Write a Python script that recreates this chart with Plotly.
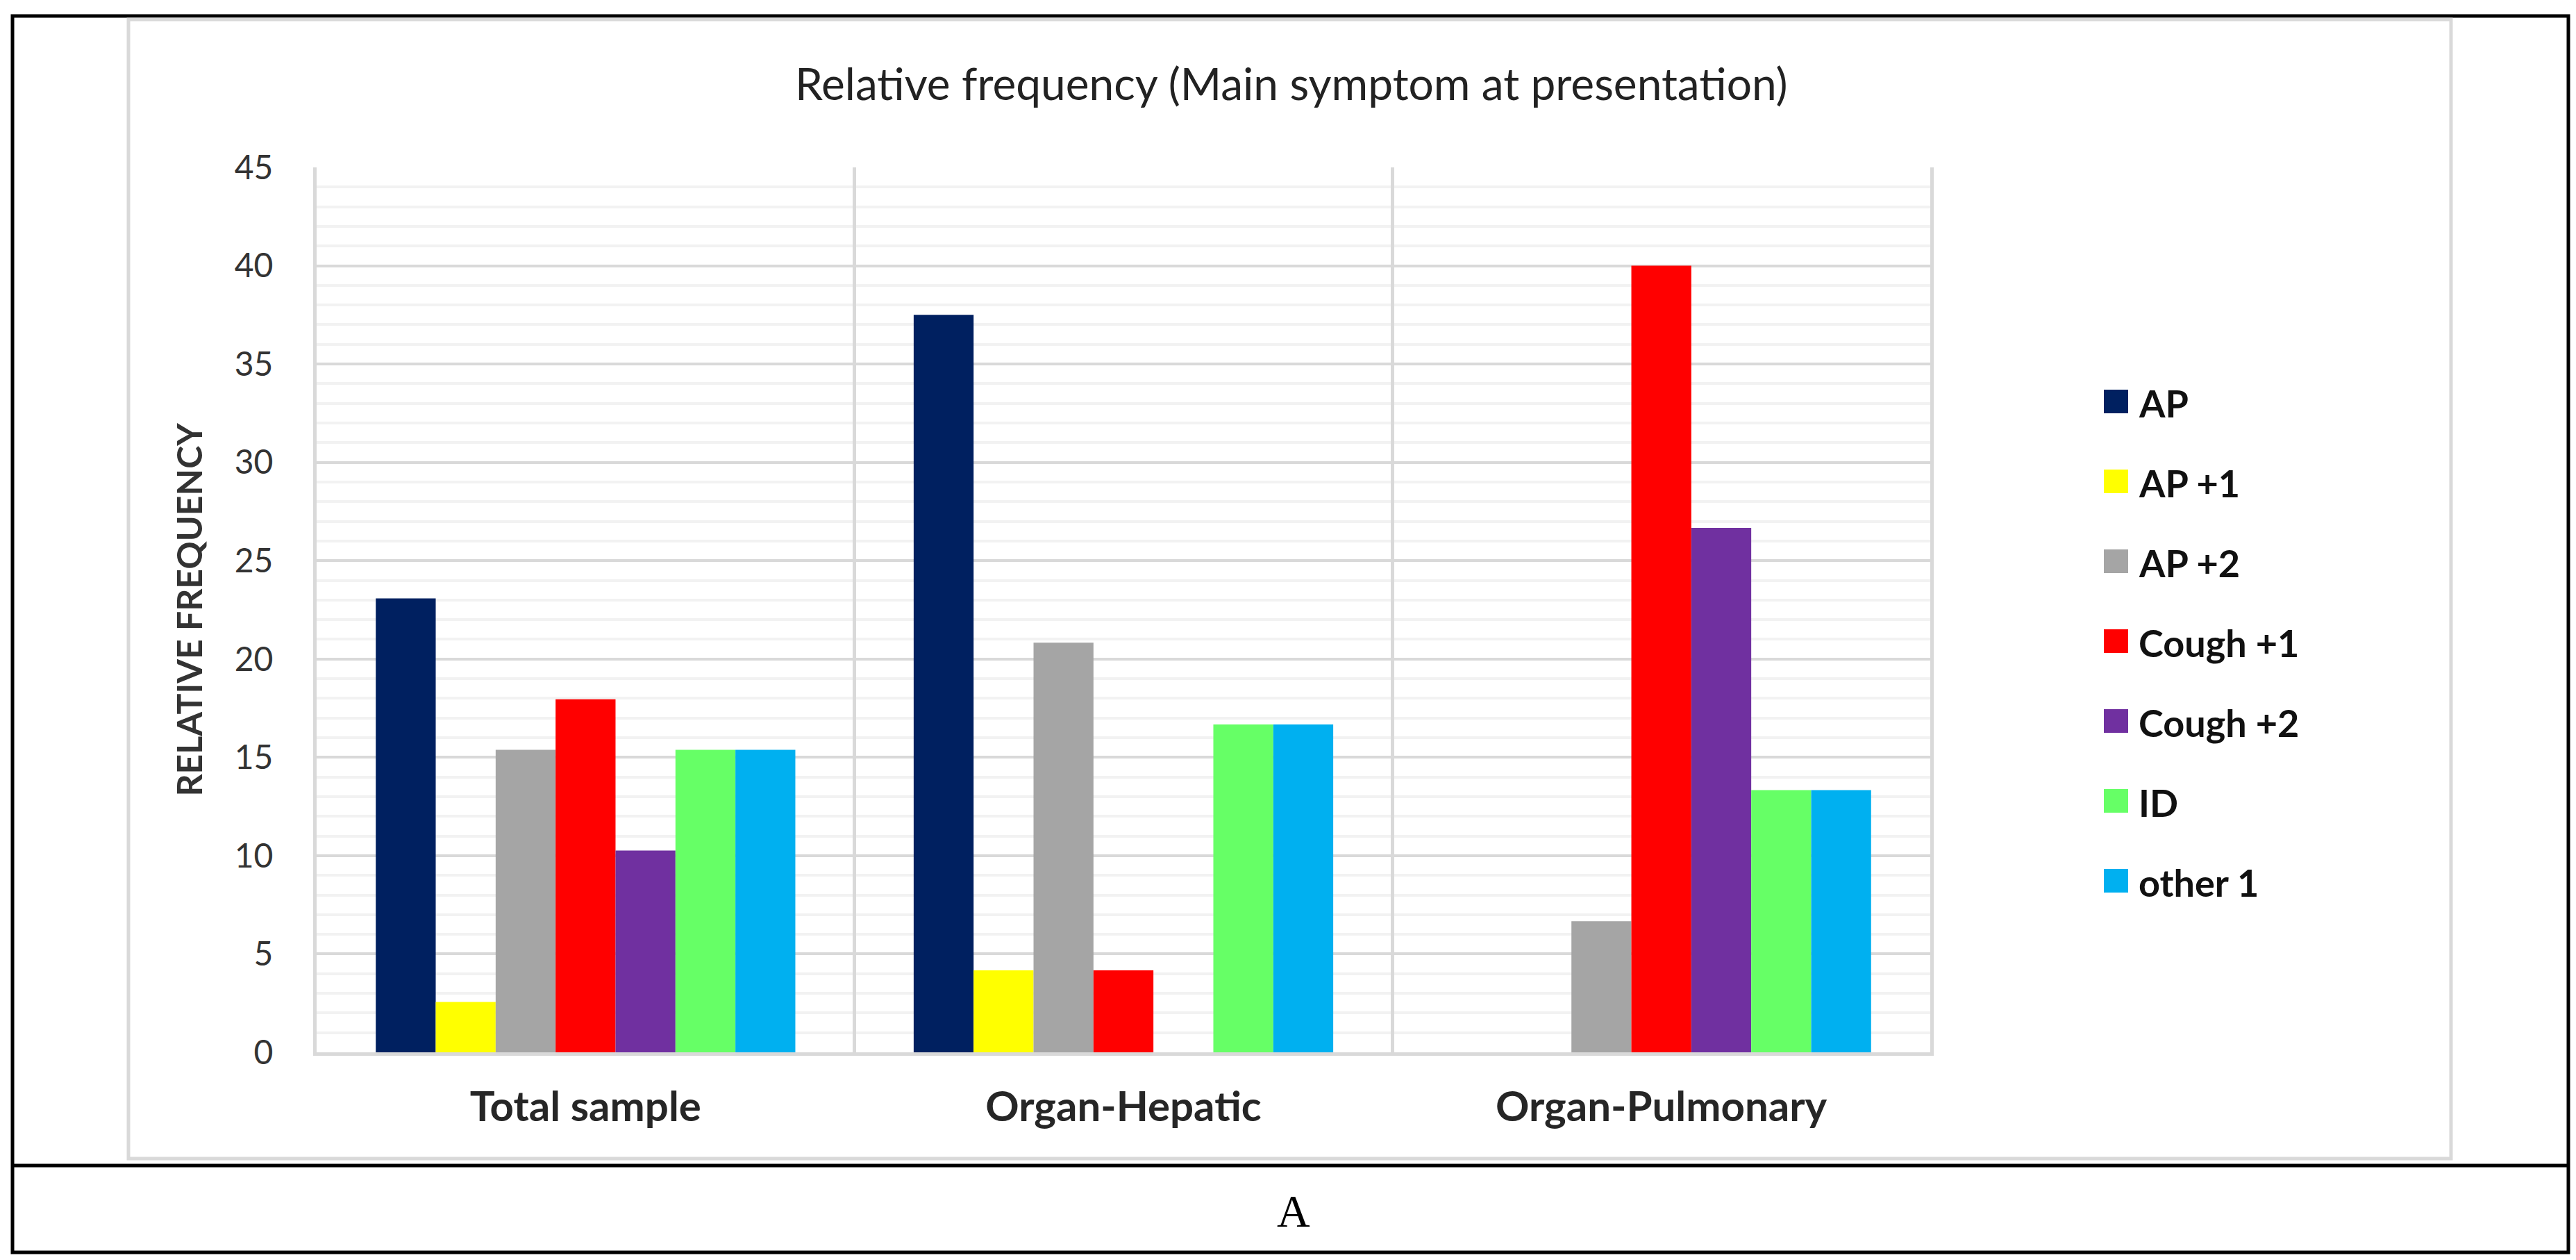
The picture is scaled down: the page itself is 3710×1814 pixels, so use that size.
import plotly.graph_objects as go

categories = ['Total sample', 'Organ-Hepatic', 'Organ-Pulmonary']
series_names = ['AP', 'AP +1', 'AP +2', 'Cough +1', 'Cough +2', 'ID', 'other 1']
series_colors = ['#002060', '#FFFF00', '#A5A5A5', '#FF0000', '#7030A0', '#66FF66', '#00B0F0']

ap = [23.08, 37.5, 0]
ap_1 = [2.56, 4.17, 0]
ap_2 = [15.38, 20.83, 6.67]
cough_1 = [17.95, 4.17, 40.0]
cough_2 = [10.26, 0, 26.67]
id_ = [15.38, 16.67, 13.33]
other_1 = [15.38, 16.67, 13.33]

values = [ap, ap_1, ap_2, cough_1, cough_2, id_, other_1]

W, H = 3710, 1814
L, R, T, B = 448, 938, 233, 307
PW = W - L - R
PH = H - T - B


def px(x):
    return (x - L) / PW


def py(y):
    return (H - B - y) / PH


font = 'Lato, Calibri, Carlito, sans-serif'

traces = []
for name, color, vals in zip(series_names, series_colors, values):
    traces.append(go.Bar(x=categories, y=vals, name=name, marker=dict(color=color, line=dict(width=0)),
                         showlegend=False))

fig = go.Figure(data=traces)

shapes = []
annotations = []

# outer black frame and row separator
shapes.append(dict(type='rect', xref='paper', yref='paper', x0=px(10), x1=px(3691), y0=py(15), y1=py(1795),
                   line=dict(color='black', width=5), layer='below'))
shapes.append(dict(type='line', xref='paper', yref='paper', x0=px(10), x1=px(3691), y0=py(1670), y1=py(1670),
                   line=dict(color='black', width=5)))
# chart area frame
shapes.append(dict(type='rect', xref='paper', yref='paper', x0=px(177), x1=px(3522), y0=py(20), y1=py(1660),
                   line=dict(color='#d9d9d9', width=5), layer='below'))

# legend
for i, (name, color) in enumerate(zip(series_names, series_colors)):
    yc = 570 + i * 115
    shapes.append(dict(type='rect', xref='paper', yref='paper', x0=px(3022), x1=px(3057),
                       y0=py(yc - 17), y1=py(yc + 17), fillcolor=color, line=dict(width=0)))
    annotations.append(dict(text=name, xref='paper', yref='paper', x=px(3070), y=py(yc + 2), xanchor='left',
                            yanchor='middle', showarrow=False,
                            font=dict(family=font, size=54, color='#111111', weight='bold')))

annotations.append(dict(text='Relative frequency (Main symptom at presentation)', xref='paper', yref='paper',
                        x=px(1852), y=py(112), xanchor='center', yanchor='middle', showarrow=False,
                        font=dict(family=font, size=64, color='#222222')))
annotations.append(dict(text='A', xref='paper', yref='paper', x=px(1855), y=py(1735), xanchor='center',
                        yanchor='middle', showarrow=False,
                        font=dict(family='Liberation Serif, Times New Roman, serif', size=66, color='black')))

fig.update_layout(
    width=W, height=H,
    margin=dict(l=L, r=R, t=T, b=B, autoexpand=False),
    paper_bgcolor='white', plot_bgcolor='white',
    barmode='group', bargap=0.22, bargroupgap=0,
    shapes=shapes, annotations=annotations,
    font=dict(family=font, color='#333333'),
)

fig.update_yaxes(
    range=[0, 45], dtick=5, showgrid=True, gridcolor='#d9d9d9', gridwidth=4, zeroline=False,
    minor=dict(dtick=1, showgrid=True, gridcolor='#f2f2f2', gridwidth=4),
    showline=True, mirror=True, linecolor='#d9d9d9', linewidth=5,
    tickfont=dict(size=48, color='#333333'), ticklabelstandoff=48,
    title=dict(text='RELATIVE FREQUENCY', font=dict(size=50, color='#333333', weight='bold'), standoff=32),
)

fig.update_xaxes(
    tickson='boundaries', showgrid=True, gridcolor='#d9d9d9', gridwidth=5, ticks='',
    showline=True, linecolor='#d9d9d9', linewidth=5,
    tickfont=dict(size=60, color='#262626', weight='bold'), ticklabelstandoff=22,
)

fig.write_html("out.html")
